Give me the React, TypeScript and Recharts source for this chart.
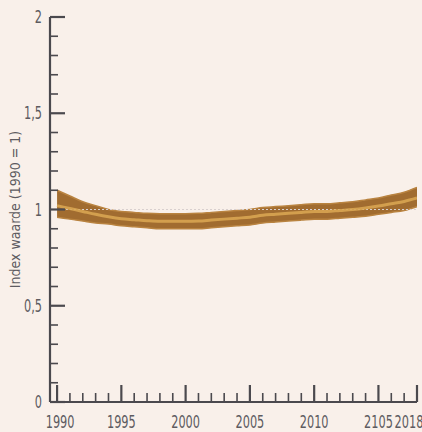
import { ComposedChart, Area, Line, XAxis, YAxis, ReferenceLine } from "recharts";

const years = [
  1990, 1991, 1992, 1993, 1994, 1995, 1996, 1997, 1998, 1999, 2000, 2001, 2002, 2003, 2004,
  2005, 2006, 2007, 2008, 2009, 2010, 2011, 2012, 2013, 2014, 2015, 2016, 2017, 2018,
];
const upper = [
  1.1, 1.07, 1.04, 1.02, 1.0, 0.99, 0.985, 0.98, 0.978, 0.978, 0.978, 0.98, 0.985, 0.99, 0.995,
  1.0, 1.01, 1.015, 1.02, 1.025, 1.03, 1.03, 1.035, 1.04, 1.05, 1.06, 1.075, 1.09, 1.115,
];
const lower = [
  0.96, 0.95, 0.94, 0.93, 0.925, 0.915, 0.91, 0.905, 0.9, 0.9, 0.9, 0.9, 0.905, 0.91, 0.915,
  0.92, 0.93, 0.935, 0.94, 0.945, 0.95, 0.95, 0.955, 0.96, 0.965, 0.975, 0.985, 0.995, 1.015,
];
const middle = [
  1.02, 1.005, 0.99, 0.975, 0.962, 0.952, 0.947, 0.942, 0.939, 0.939, 0.939, 0.94, 0.945, 0.95, 0.955,
  0.96, 0.97, 0.975, 0.98, 0.985, 0.99, 0.99, 0.995, 1.0, 1.008, 1.018, 1.03, 1.042, 1.06,
];

const yTicks = [
  0, 0.1, 0.2, 0.3, 0.4, 0.5, 0.6, 0.7, 0.8, 0.9, 1, 1.1, 1.2, 1.3, 1.4, 1.5, 1.6, 1.7, 1.8, 1.9, 2,
];
const yLabelValues = [0, 0.5, 1, 1.5, 2];
const yLabelTexts = ["0", "0,5", "1", "1,5", "2"];
const xMajorYears = [1990, 1995, 2000, 2005, 2010, 2015, 2018];
const xLabelTexts = ["1990", "1995", "2000", "2005", "2010", "2105", "2018"];

const data = years.map((year, i) => ({
  year,
  band: [lower[i], upper[i]],
  mid: middle[i],
}));

const FONT = "'DejaVu Sans Condensed', 'Liberation Sans Narrow', 'Noto Sans', sans-serif";
const AXIS = "#4b494e";
const TEXT = "#5d5b60";
// the reference uses a very narrow face, squeeze the glyphs a bit
const SQUEEZE = 0.74;

function YTick(props: any) {
  const { x, y, payload } = props;
  const v = payload.value;
  const idx = yLabelValues.findIndex((m) => Math.abs(m - v) < 1e-6);
  const major = idx >= 0;
  const ax = x + 8;
  return (
    <g>
      <line x1={ax} x2={ax + (major ? 15 : 8)} y1={y} y2={y} stroke={AXIS} strokeWidth={major ? 2.2 : 1.6} />
      {major && (
        <text
          transform={`translate(${x} ${y}) scale(${SQUEEZE} 1)`}
          dy={6}
          textAnchor="end"
          fill={TEXT}
          fontSize={17}
          fontFamily={FONT}
        >
          {yLabelTexts[idx]}
        </text>
      )}
    </g>
  );
}

function XTick(props: any) {
  const { x, y, payload } = props;
  const v = payload.value;
  const idx = xMajorYears.indexOf(v);
  const major = idx >= 0;
  const ay = y - 8;
  const shift = v === 2018 ? -8 : v === 1990 ? 3 : 0;
  return (
    <g>
      <line x1={x} x2={x} y1={ay} y2={ay - (major ? 17 : 9)} stroke={AXIS} strokeWidth={major ? 2.2 : 1.6} />
      {major && (
        <text
          transform={`translate(${x + shift} ${y}) scale(${SQUEEZE} 1)`}
          dy={18}
          textAnchor="middle"
          fill={TEXT}
          fontSize={17}
          fontFamily={FONT}
        >
          {xLabelTexts[idx]}
        </text>
      )}
    </g>
  );
}

export default function App() {
  return (
    <div style={{ position: "fixed", inset: 0, background: "#f9f0ea" }}>
      <ComposedChart width={422} height={432} data={data} margin={{ top: 17, right: 5, bottom: 0, left: 0 }}>
        <XAxis
          dataKey="year"
          type="number"
          domain={[1989.45, 2018]}
          ticks={years}
          interval={0}
          tick={<XTick />}
          tickLine={false}
          axisLine={{ stroke: AXIS, strokeWidth: 2.2 }}
          height={30}
          allowDataOverflow
        />
        <YAxis
          type="number"
          domain={[0, 2]}
          ticks={yTicks}
          interval={0}
          tick={<YTick />}
          tickLine={false}
          axisLine={{ stroke: AXIS, strokeWidth: 2.2 }}
          width={50}
          label={{
            value: "Index waarde (1990 = 1)",
            angle: -90,
            position: "insideLeft",
            offset: 15,
            style: { textAnchor: "middle", fill: TEXT, fontSize: 14, fontFamily: FONT },
          }}
        />
        <ReferenceLine y={1} stroke="#d9d0cf" strokeDasharray="2 2" strokeWidth={1} />
        <Area
          type="monotone"
          dataKey="band"
          stroke="#b98340"
          strokeWidth={1.5}
          fill="#9c6426"
          fillOpacity={0.95}
          isAnimationActive={false}
        />
        <Line
          type="monotone"
          dataKey="mid"
          stroke="#d8a552"
          strokeWidth={3}
          strokeOpacity={0.9}
          dot={false}
          isAnimationActive={false}
        />
      </ComposedChart>
    </div>
  );
}
